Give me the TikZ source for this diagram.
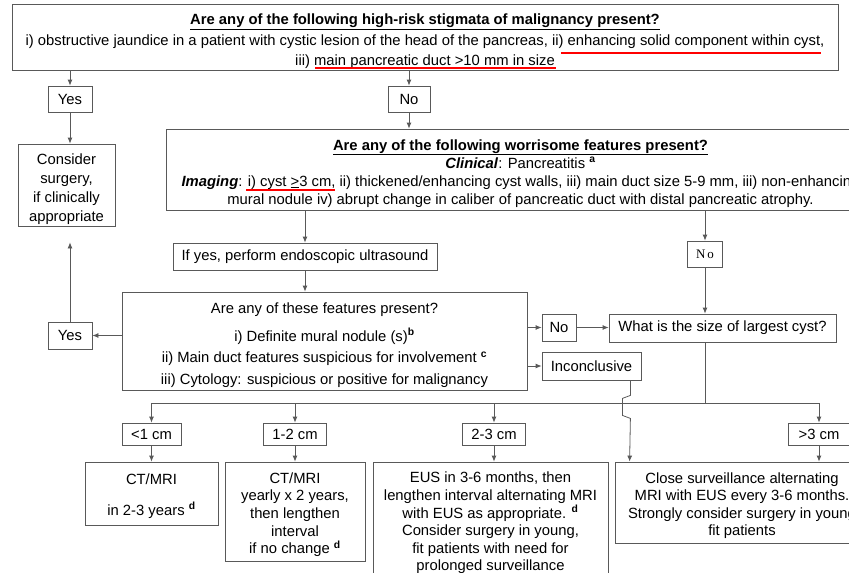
\documentclass[tikz,border=0pt]{standalone}
\usepackage{fontspec}
\setmainfont{Liberation Sans}
\newfontfamily\nofont{Liberation Serif}
\usetikzlibrary{arrows.meta}
\newcommand\tpad[1]{\rule{0pt}{#1}}

\begin{document}
\begin{tikzpicture}[x=1pt,y=-1pt,
  box/.style={draw=black!65, line width=0.8pt, align=center, inner sep=0pt,
    font=\fontsize{14.8}{18}\selectfont},
  sbox/.style={box, font=\fontsize{14.8}{17.6}\selectfont},
  arr/.style={draw=black!65, line width=0.8pt, -{Latex[length=6pt,width=5pt]}},
  ln/.style={draw=black!65, line width=0.8pt},
  hl/.style={red, line width=1.8pt}]
\useasboundingbox (0,0) rectangle (849,573);
\clip (0,0) rectangle (849,573);

% high-risk stigmata
\node[box, minimum width=826pt, minimum height=66pt,
  font=\fontsize{14.8}{20.3}\selectfont] (risk) at (425,37)
  {\tpad{19.6pt}\underline{\textbf{Are any of the following high-risk stigmata of malignancy present?}}\\
   i) obstructive jaundice in a patient with cystic lesion of the head of the pancreas, ii) enhancing solid component within cyst,\\
   iii) main pancreatic duct \underline{>}10 mm in size};
\node[box, minimum width=44pt, minimum height=26pt] (yes1) at (70,99) {Yes};
\node[box, minimum width=42pt, minimum height=26pt] (no1) at (409,99) {No};
\node[box, minimum width=97pt, minimum height=82pt,
  font=\fontsize{14.8}{19}\selectfont] (cons) at (66.5,185)
  {\tpad{19.6pt}Consider\\ surgery,\\ if clinically\\ appropriate};

% worrisome features
\node[box, minimum width=709pt, minimum height=81pt] (worry) at (520.5,169.5)
  {\tpad{18.2pt}\underline{\textbf{Are any of the following worrisome features present?}}\\
   \textbf{\textit{Clinical}}: Pancreatitis \textsuperscript{\textbf{a}}\\
   \textbf{\textit{Imaging}}: i) cyst \underline{>}3 cm, ii) thickened/enhancing cyst walls, iii) main duct size 5-9 mm, iii) non-enhancing\\
   mural nodule iv) abrupt change in caliber of pancreatic duct with distal pancreatic atrophy.};
\node[box, minimum width=264pt, minimum height=27pt] (ifyes) at (305,256.5)
  {If yes, perform endoscopic ultrasound};
\node[box, minimum width=35pt, minimum height=26pt,
  font=\nofont\fontsize{13}{15}\selectfont] (nos) at (705,254) {N\hspace{2pt}o};

% EUS features
\node[box, minimum width=405pt, minimum height=98pt,
  font=\fontsize{14.8}{21.5}\selectfont] (feat) at (324.5,341)
  {\tpad{18.8pt}Are any of these features present?\\[6pt]
   i) Definite mural nodule (s)\textsuperscript{\textbf{b}}\\
   ii) Main duct features suspicious for involvement \textsuperscript{\textbf{c}}\\
   iii) Cytology: suspicious or positive for malignancy};
\node[box, minimum width=44pt, minimum height=27pt] (yes2) at (70,335.5) {Yes};
\node[box, minimum width=34pt, minimum height=27pt] (no2) at (559,327.5) {No};
\node[box, minimum width=227pt, minimum height=28pt] (what) at (722.5,328)
  {What is the size of largest cyst?};
\node[box, minimum width=99pt, minimum height=28pt] (inc) at (591.5,366) {Inconclusive};

% cyst size
\node[sbox, minimum width=59pt, minimum height=22pt] (s1) at (151.5,434) {<1 cm};
\node[sbox, minimum width=63pt, minimum height=22pt] (s2) at (295,434) {1-2 cm};
\node[sbox, minimum width=63pt, minimum height=22pt] (s3) at (494,434) {2-3 cm};
\node[sbox, minimum width=61pt, minimum height=22pt] (s4) at (819,434) {>3 cm};
\coordinate (split) at (705,403);

% follow-up
\node[sbox, minimum width=133pt, minimum height=63pt] (r1) at (151.5,493.5)
  {\tpad{15.8pt}CT/MRI\\[13pt] in 2-3 years \textsuperscript{\textbf{d}}};
\node[sbox, minimum width=140pt, minimum height=99pt] (r2) at (295,511.5)
  {\tpad{17pt}CT/MRI\\ yearly x 2 years,\\ then lengthen\\ interval\\ if no change \textsuperscript{\textbf{d}}};
\node[sbox, minimum width=235pt, minimum height=116pt] (r3) at (490.5,520)
  {\tpad{17pt}EUS in 3-6 months, then\\ lengthen interval alternating MRI\\ with EUS as appropriate. \textsuperscript{\textbf{d}}\\
   Consider surgery in young,\\ fit patients with need for\\ prolonged surveillance};
\node[sbox, minimum width=254pt, minimum height=81pt] (r4) at (742,502.5)
  {\tpad{17pt}Close surveillance alternating\\ MRI with EUS every 3-6 months.\\ Strongly consider surgery in young\\ fit patients};

% connectors
\draw[arr] (risk.south -| yes1.north) -- (yes1.north);
\draw[arr] (risk.south -| no1.north) -- (no1.north);
\draw[arr] (yes1.south) -- (yes1.south |- cons.north);
\draw[arr] (no1.south) -- (no1.south |- worry.north);
\draw[arr] (worry.south -| ifyes.north) -- (ifyes.north);
\draw[arr] (worry.south -| nos.north) -- (nos.north);
\draw[arr] (ifyes.south) -- (ifyes.south |- feat.north);
\draw[arr] (nos.south) -- (nos.south |- what.north);
\draw[arr] (feat.west |- yes2.east) -- (yes2.east);
\draw[arr] (yes2.north) -- ([yshift=-16pt]yes2.north |- cons.south);
\draw[arr] (feat.east |- no2.west) -- (no2.west);
\draw[arr] (no2.east) -- (what.west |- no2.east);
\draw[arr] (feat.east |- inc.west) -- (inc.west);
\draw[ln] (what.south -| split) -- (split);
\foreach \s in {s1,s2,s3,s4}
  \draw[arr] (split) -| (\s.north);
\foreach \s/\r in {s1/r1,s2/r2,s3/r3,s4/r4}
  \draw[arr] (\s.south) -- (\s.south |- \r.north);
\draw[arr] ([xshift=-11pt]inc.south east) -- ++(0,15) -- ++(-8,3) -- ++(0,17) -- ++(8,3)
  -- ([xshift=15pt]r4.north west);

% red marks
\draw[hl] (561,53) -- (821,53);
\draw[hl] (315,68) -- (556,68);
\draw[hl] (246,190) -- (335,190);

\end{tikzpicture}
\end{document}
